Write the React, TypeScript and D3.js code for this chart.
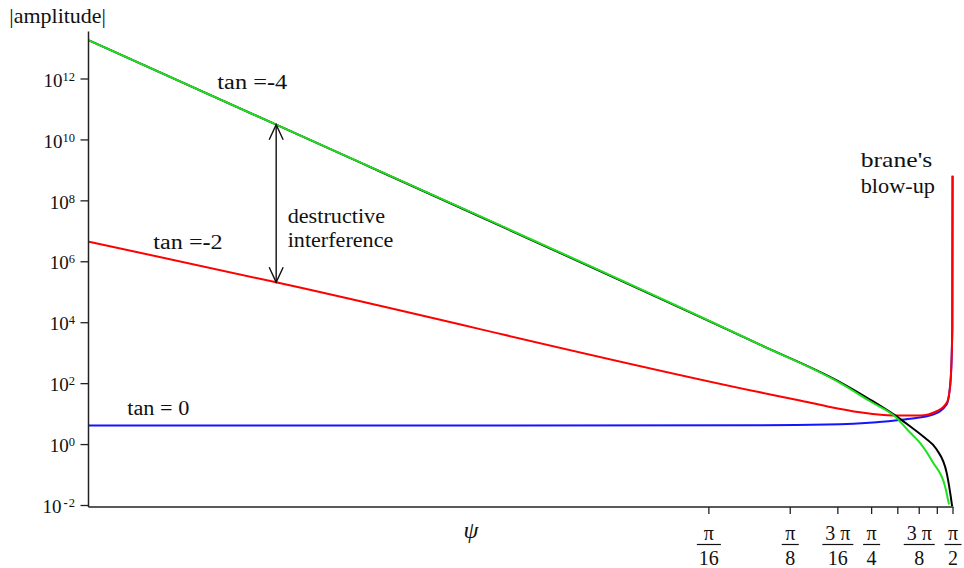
import React from 'react';
import * as d3 from 'd3';

// ---- data ----
const psiDomain = [0.001, Math.PI / 2];
const ampDomain = [1e-2, 1e12];
const ampAxisTop = 3.6e13;

const tan0Psi = [0.001, 0.0332, 0.3033, 0.5355, 0.8203, 1.0893, 1.3248, 1.4886, 1.5403, 1.5615, 1.565];
const tan0Amp = [4.22, 4.22, 4.31, 4.54, 5.41, 7.0, 9.68, 20.6, 150, 7000, 6.7e8];

const tanM2Psi = [0.001, 0.004925, 0.3033, 0.4268, 0.5355, 0.7113, 0.9422, 1.186, 1.3673, 1.4886, 1.522, 1.5403, 1.5615, 1.565];
const tanM2Amp = [4.58e6, 2.12e5, 52.1, 27.9, 18.1, 11.5, 8.97, 8.97, 12.4, 23.4, 49.8, 136, 5940, 6.7e8];

const tanM4Psi = [0.001, 0.004925, 0.3033, 0.5996, 0.7746, 0.9725, 1.0893, 1.186, 1.3248, 1.4675, 1.5182];
const tanM4Amp = [1.85e13, 3.16e10, 1.91e3, 106, 26.4, 7.5, 2.48, 1.14, 0.258, 0.043, 0.0108];

const blackPsi = [0.001, 0.004925, 0.3033, 0.5996, 0.7746, 1.0, 1.0893, 1.236, 1.3673, 1.4886, 1.5403, 1.559];
const blackAmp = [1.85e13, 3.16e10, 1.91e3, 112.7, 30.1, 7.0, 4.0, 1.66, 0.687, 0.118, 0.0202, 0.0095];

const arrowPsi = 0.004925;
const arrowTopAmp = 3.16e10;
const arrowBottomAmp = 2.12e5;

const yTickExponents = [-2, 0, 2, 4, 6, 8, 10, 12];

const xTickValues = [Math.PI / 16, Math.PI / 8, (3 * Math.PI) / 16, Math.PI / 4, (5 * Math.PI) / 16, (3 * Math.PI) / 8, (7 * Math.PI) / 16, Math.PI / 2];
const xTickNumerators = ['π', 'π', '3 π', 'π', '', '3 π', '', 'π'];
const xTickDenominators = ['16', '8', '16', '4', '', '8', '', '2'];

const SERIF = '"Liberation Serif", "Times New Roman", "DejaVu Serif", serif';

export default function App() {
  const x = d3.scaleLog().domain(psiDomain).range([89, 953]);
  const y = d3.scaleLog().domain(ampDomain).range([505.5, 79]);
  const axisX = 88.5;
  const axisY = 507;
  const axisTop = y(ampAxisTop);
  const right = 953;

  const line = d3
    .line<[number, number]>()
    .x((d) => x(d[0]))
    .y((d) => y(d[1]))
    .curve(d3.curveMonotoneX);
  const path = (ps: number[], as: number[]) => line(ps.map((p, i) => [p, as[i]] as [number, number])) || '';

  const ax = x(arrowPsi);
  const ayTop = y(arrowTopAmp);
  const ayBot = y(arrowBottomAmp);

  const axisColor = '#222';
  const ts = { fontFamily: SERIF };

  return (
    <svg
      width={964}
      height={568}
      style={{ position: 'absolute', left: 0, top: 0, background: '#fff', fontFamily: SERIF }}
    >
      <defs>
        <clipPath id="plotClip">
          <rect x={axisX} y={axisTop - 2} width={right - axisX + 4} height={axisY - axisTop + 2} />
        </clipPath>
      </defs>

      {/* curves */}
      <g clipPath="url(#plotClip)" fill="none" strokeWidth={2} strokeLinejoin="round">
        <path d={path(tan0Psi, tan0Amp)} stroke="#1414ff" />
        <path d={path(tanM2Psi, tanM2Amp)} stroke="#ff0000" />
        <path d={path(blackPsi, blackAmp)} stroke="#000000" />
        <path d={path(tanM4Psi, tanM4Amp)} stroke="#1ee01e" />
      </g>

      {/* axes */}
      <line x1={axisX} y1={axisTop} x2={axisX} y2={axisY} stroke={axisColor} strokeWidth={1.5} />
      <line x1={axisX} y1={axisY} x2={right + 0.5} y2={axisY} stroke={axisColor} strokeWidth={1.5} />

      {/* y ticks */}
      {yTickExponents.map((e) => {
        const ty = y(Math.pow(10, e));
        return (
          <g key={e}>
            <line x1={80.5} y1={ty} x2={axisX} y2={ty} stroke={axisColor} strokeWidth={1.3} />
            <text x={75} y={ty + 7.7} textAnchor="end" fontSize={19} fill="#111" style={ts}>
              10
              <tspan dy={-6} fontSize={12.5}>
                {e < 0 ? (
                  <>
                    <tspan fontWeight="bold" dx={2}>-</tspan>
                    <tspan dx={1}>{String(-e)}</tspan>
                  </>
                ) : (
                  String(e)
                )}
              </tspan>
            </text>
          </g>
        );
      })}

      {/* x ticks */}
      {xTickValues.map((v, i) => {
        const tx = x(v);
        const num = xTickNumerators[i];
        const den = xTickDenominators[i];
        const w = 10 + 7 * Math.max(num.length, den.length);
        return (
          <g key={i}>
            <line x1={tx} y1={axisY} x2={tx} y2={axisY + 7} stroke={axisColor} strokeWidth={1.3} />
            {num && (
              <>
                <text x={tx} y={540} textAnchor="middle" fontSize={20} fill="#111" style={ts}>
                  {num}
                </text>
                <line x1={tx - w / 2} y1={544.5} x2={tx + w / 2} y2={544.5} stroke="#111" strokeWidth={1.2} />
                <text x={tx} y={565} textAnchor="middle" fontSize={20} fill="#111" style={ts}>
                  {den}
                </text>
              </>
            )}
          </g>
        );
      })}

      {/* axis titles */}
      <text x={9.3} y={22.7} fontSize={22} textLength={96.7} lengthAdjust="spacingAndGlyphs" fill="#111" style={ts}>
        |amplitude|
      </text>
      <text x={471} y={538} textAnchor="middle" fontSize={24} fontStyle="italic" fill="#111" style={ts}>
        ψ
      </text>

      {/* curve labels */}
      <text x={127.3} y={415} fontSize={20} textLength={62} lengthAdjust="spacingAndGlyphs" fill="#111" style={ts}>
        tan = 0
      </text>
      <text x={153.3} y={249.3} fontSize={20} textLength={69.4} lengthAdjust="spacingAndGlyphs" fill="#111" style={ts}>
        tan =<tspan fontWeight="bold">-</tspan>2
      </text>
      <text x={217.3} y={89.3} fontSize={20} textLength={70} lengthAdjust="spacingAndGlyphs" fill="#111" style={ts}>
        tan =<tspan fontWeight="bold">-</tspan>4
      </text>

      {/* destructive interference arrow */}
      <g stroke="#111" strokeWidth={1.4} fill="none">
        <line x1={ax} y1={ayTop} x2={ax} y2={ayBot} />
        <polyline points={`${ax - 7},${ayTop + 15} ${ax},${ayTop} ${ax + 7},${ayTop + 15}`} />
        <polyline points={`${ax - 7},${ayBot - 15} ${ax},${ayBot} ${ax + 7},${ayBot - 15}`} />
      </g>
      <text x={287.7} y={222.7} fontSize={21} textLength={97.3} lengthAdjust="spacingAndGlyphs" fill="#111" style={ts}>
        destructive
      </text>
      <text x={287.7} y={246.7} fontSize={21} textLength={105.6} lengthAdjust="spacingAndGlyphs" fill="#111" style={ts}>
        interference
      </text>

      <text x={860.7} y={167} fontSize={21} textLength={71.6} lengthAdjust="spacingAndGlyphs" fill="#111" style={ts}>
        brane's
      </text>
      <text x={860.7} y={193} fontSize={21} textLength={74.3} lengthAdjust="spacingAndGlyphs" fill="#111" style={ts}>
        blow-up
      </text>
    </svg>
  );
}
